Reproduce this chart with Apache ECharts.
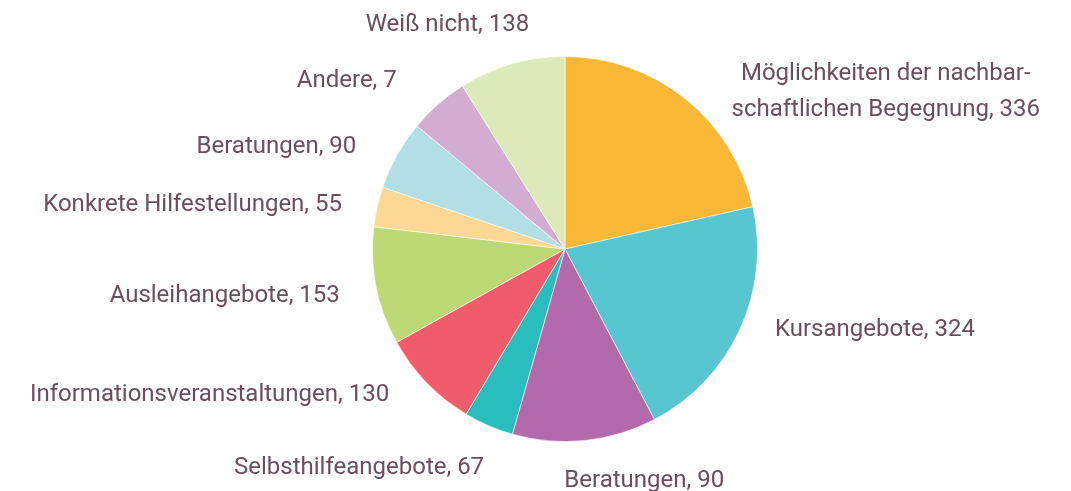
<!DOCTYPE html>
<html>
<head>
<meta charset="utf-8">
<script src="https://cdn.jsdelivr.net/npm/echarts@6/dist/echarts.min.js"></script>
<style>
  html, body { margin: 0; padding: 0; background: #fff; }
  #chart { width: 1071px; height: 491px; }
</style>
</head>
<body>
<div id="chart"></div>
<script>
    // categories, clockwise from 12 o'clock
    var categories = [
        'Möglichkeiten der nachbar-\nschaftlichen Begegnung',
        'Kursangebote',
        'Beratungen',
        'Selbsthilfeangebote',
        'Informationsveranstaltungen',
        'Ausleihangebote',
        'Konkrete Hilfestellungen',
        'Beratungen',
        'Andere',
        'Weiß nicht'
    ];
    // numbers printed in the labels
    var counts = [336, 324, 90, 67, 130, 153, 55, 90, 7, 138];
    // slice sizes as drawn
    var sliceValues = [334, 324, 188, 65, 130, 154, 52, 91, 78, 139];

    var colors = ['#fbb836', '#57c6d0', '#b36aac', '#29bdbd', '#f05c6a',
                  '#bcd976', '#fdd794', '#b1dfe5', '#d3add1', '#dce9b8'];
    // small nudges so the labels sit like in the original layout
    var labelShift = [[20, 20], [4, -13], [-29, 9], [14, 11], [-8, -11],
                      [2, 3], [3, 6], [-6, 9], [-14, 2], [32, -6]];

    var chart = echarts.init(document.getElementById('chart'));

    var data = categories.map(function (name, i) {
        return {
            name: name,
            value: sliceValues[i],
            count: counts[i],
            itemStyle: { color: colors[i] }
        };
    });

    var option = {
        animation: false,
        series: [{
            type: 'pie',
            center: [565, 249],
            radius: 192.5,
            startAngle: 90,
            clockwise: true,
            itemStyle: {
                borderColor: '#fff',
                borderWidth: 0.6
            },
            label: {
                show: true,
                position: 'outside',
                fontFamily: 'Roboto',
                fontSize: 24,
                lineHeight: 36,
                color: '#6b4e5e',
                formatter: function (p) {
                    var lines = (p.name + ', ' + p.data.count).split('\n');
                    return lines.map(function (l) { return '{c|' + l + '}'; }).join('\n');
                },
                rich: {
                    c: {
                        align: 'center',
                        fontFamily: 'Roboto',
                        fontSize: 24,
                        lineHeight: 36,
                        color: '#6b4e5e'
                    }
                }
            },
            labelLine: {
                show: false,
                length: 34,
                length2: 0
            },
            labelLayout: function (params) {
                var s = labelShift[params.dataIndex];
                return { dx: s[0], dy: s[1] };
            },
            data: data
        }]
    };

    chart.setOption(option);
</script>
</body>
</html>
